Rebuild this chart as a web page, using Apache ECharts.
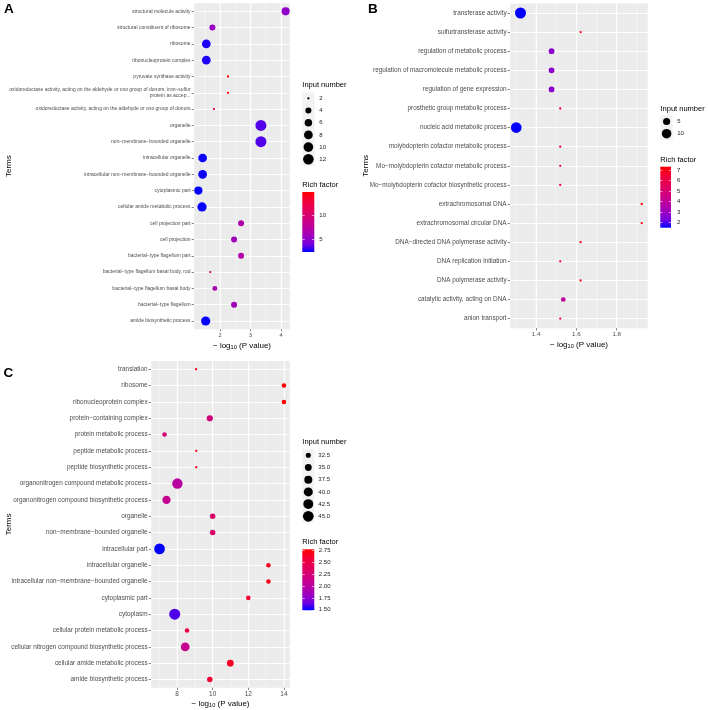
<!DOCTYPE html>
<html><head><meta charset="utf-8">
<script src="https://cdn.jsdelivr.net/npm/echarts@6/dist/echarts.min.js"></script>
<style>html,body{margin:0;padding:0;background:#fff}#c{width:708px;height:710px}</style>
</head><body><div id="c"></div>
<script>
// ---------------- Panel A ----------------
const termsA = [
  'structural molecule activity',
  'structural constituent of ribosome',
  'ribosome',
  'ribonucleoprotein complex',
  'pyruvate synthase activity',
  'oxidoreductase activity, acting on the aldehyde or oxo group of donors, iron\u2212sulfur\nprotein as accep...',
  'oxidoreductase activity, acting on the aldehyde or oxo group of donors',
  'organelle',
  'non\u2212membrane\u2212bounded organelle',
  'intracellular organelle',
  'intracellular non\u2212membrane\u2212bounded organelle',
  'cytoplasmic part',
  'cellular amide metabolic process',
  'cell projection part',
  'cell projection',
  'bacterial\u2212type flagellum part',
  'bacterial\u2212type flagellum basal body, rod',
  'bacterial\u2212type flagellum basal body',
  'bacterial\u2212type flagellum',
  'amide biosynthetic process'
];
const logPA  = [4.15,1.75,1.55,1.55,2.26,2.26,1.80,3.34,3.34,1.43,1.43,1.29,1.41,2.69,2.46,2.69,1.68,1.83,2.46,1.53];
const inputA = [7,4,8,8,2,2,2,13,13,8,8,7,9,4,4,4,2,3,4,9];
const richA  = [5.0,5.3,2.7,2.7,14.8,14.8,10.8,3.4,3.4,2.45,2.45,2.29,2.4,6.7,5.8,6.7,9.8,6.2,5.8,2.4];
const xTicksA = [2,3,4];
const sizeBreaksA = [2,4,6,8,10,12];
const richTicksA = [5,10];

// ---------------- Panel B ----------------
const termsB = [
  'transferase activity',
  'sulfurtransferase activity',
  'regulation of metabolic process',
  'regulation of macromolecule metabolic process',
  'regulation of gene expression',
  'prosthetic group metabolic process',
  'nucleic acid metabolic process',
  'molybdopterin cofactor metabolic process',
  'Mo\u2212molybdopterin cofactor metabolic process',
  'Mo\u2212molybdopterin cofactor biosynthetic process',
  'extrachromosomal DNA',
  'extrachromosomal circular DNA',
  'DNA\u2212directed DNA polymerase activity',
  'DNA replication initiation',
  'DNA polymerase activity',
  'catalytic activity, acting on DNA',
  'anion transport'
];
const logPB  = [1.323,1.621,1.477,1.477,1.477,1.520,1.302,1.520,1.520,1.520,1.924,1.924,1.621,1.520,1.621,1.535,1.520];
const inputB = [14,1,3,3,3,1,13,1,1,1,1,1,1,1,1,2,1];
const richB  = [1.52,7.0,2.7,2.7,2.7,6.5,1.55,6.5,6.5,6.5,7.34,7.34,7.0,6.5,7.0,3.9,6.5];
const xTicksB = [1.4,1.6,1.8];
const sizeBreaksB = [5,10];
const richTicksB = [2,3,4,5,6,7];

// ---------------- Panel C ----------------
const termsC = [
  'translation',
  'ribosome',
  'ribonucleoprotein complex',
  'protein\u2212containing complex',
  'protein metabolic process',
  'peptide metabolic process',
  'peptide biosynthetic process',
  'organonitrogen compound metabolic process',
  'organonitrogen compound biosynthetic process',
  'organelle',
  'non\u2212membrane\u2212bounded organelle',
  'intracellular part',
  'intracellular organelle',
  'intracellular non\u2212membrane\u2212bounded organelle',
  'cytoplasmic part',
  'cytoplasm',
  'cellular protein metabolic process',
  'cellular nitrogen compound biosynthetic process',
  'cellular amide metabolic process',
  'amide biosynthetic process'
];
const logPC  = [9.07,14.0,14.0,9.84,7.30,9.08,9.08,8.02,7.41,10.0,10.0,7.02,13.13,13.13,12.0,7.87,8.56,8.46,10.99,9.84];
const inputC = [31,32,32,34,32,31,31,44,38,33,33,45,32,32,32,46,32,39,35,33];
const richC  = [2.7,2.78,2.78,2.2,2.25,2.7,2.7,2.0,2.1,2.3,2.3,1.49,2.68,2.68,2.6,1.6,2.5,2.1,2.65,2.6];
const xTicksC = [8,10,12,14];
const sizeBreaksC = [32.5,35,37.5,40,42.5,45];
const richTicksC = [1.5,1.75,2,2.25,2.5,2.75];

// ---------------- build ----------------
const FONT = '"Liberation Sans", Arial, Helvetica, sans-serif';
const STOPS = ['#0000ff','#7300e0','#9a00c2','#b500a5','#ca0089','#da006c','#e8004f','#f40031','#ff0000'];
const grid = [], xAxis = [], yAxis = [], series = [], visualMap = [], title = [];

function sizeFn(v, lo, hi) {
  const t = hi > lo ? Math.max(0, (v - lo) / (hi - lo)) : 0;
  const s = 1 + 5 * Math.sqrt(t);
  return 0.611 * (2.845 * s + 0.945);
}
function mkGrid(o) {
  return Object.assign({outerBoundsMode: 'none', containLabel: false, borderWidth: 0}, o);
}

function addPanel(P) {
  const gi = grid.length;
  grid.push(mkGrid({left: P.left, top: P.top, width: P.width, height: P.height, show: true,
             backgroundColor: '#EBEBEB'}));
  const xi = xAxis.length;
  xAxis.push({
    type: 'value', gridIndex: gi, min: P.xmin, max: P.xmax,
    minInterval: P.xstep, maxInterval: P.xstep,
    axisLine: {show: false},
    axisTick: {show: true, length: 2.3, customValues: P.xTicks, lineStyle: {color: '#333', width: 0.6}},
    axisLabel: {customValues: P.xTicks, formatter: P.xfmt, fontSize: P.tickFs, color: '#4D4D4D',
                margin: P.xLabMargin, fontFamily: FONT},
    splitLine: {show: true, lineStyle: {color: '#fff', width: 0.9}},
    name: '\u2212 log{sub|10} (P value)', nameLocation: 'middle', nameGap: P.xNameGap, nameMoveOverlap: false,
    nameTextStyle: {fontSize: P.nameFs, color: '#000', fontFamily: FONT,
      rich: {sub: {fontSize: P.nameFs * 0.7, color: '#000', fontFamily: FONT, padding: [P.nameFs * 0.45, 0, 0, 0]}}}
  });
  xAxis.push({
    type: 'value', gridIndex: gi, min: P.xmin, max: P.xmax, position: 'top',
    minInterval: P.xstep / 2, maxInterval: P.xstep / 2,
    axisLine: {show: false}, axisTick: {show: false}, axisLabel: {show: false},
    splitLine: {show: true, lineStyle: {color: '#fff', width: 0.45}}
  });
  const yi = yAxis.length;
  yAxis.push({
    type: 'category', gridIndex: gi, data: P.terms, inverse: true,
    axisLine: {show: false},
    axisTick: {show: true, alignWithLabel: true, interval: 0, length: 2.3, lineStyle: {color: '#333', width: 0.6}},
    axisLabel: {interval: 0, fontSize: P.labFs, lineHeight: P.labLH, color: '#4D4D4D', margin: 3.4, fontFamily: FONT},
    splitLine: {show: true, interval: 0, alignWithLabel: true, lineStyle: {color: '#fff', width: 0.9}},
    name: 'Terms', nameLocation: 'middle', nameGap: P.yNameGap, nameMoveOverlap: false,
    nameTextStyle: {fontSize: P.nameFs, color: '#000', fontFamily: FONT}
  });
  const lo = Math.min(...P.input), hi = Math.max(...P.input);
  const si = series.length;
  series.push({
    type: 'scatter', xAxisIndex: xi, yAxisIndex: yi,
    data: P.terms.map((t, i) => [P.logP[i], i, P.input[i], P.rich[i]]),
    encode: {x: 0, y: 1},
    symbolSize: v => sizeFn(v[2], lo, hi),
    itemStyle: {opacity: 1}, silent: true
  });
  title.push({text: P.letter, left: P.letterPos[0], top: P.letterPos[1], padding: 0,
              textStyle: {fontSize: 13.5, fontWeight: 'bold', color: '#000', fontFamily: FONT}});

  // size legend
  const L = P.sizeLeg;
  title.push({text: 'Input number', left: L.left, top: L.titleTop, padding: 0,
              textStyle: {fontSize: P.legTitleFs, fontWeight: 'normal', color: '#000', fontFamily: FONT}});
  const lg = grid.length;
  grid.push(mkGrid({left: L.left, top: L.top, width: L.keyW, height: L.keyH * P.sizeBreaks.length, show: true,
             backgroundColor: '#F2F2F2'}));
  const lx = xAxis.length;
  xAxis.push({type: 'category', gridIndex: lg, data: ['k'], show: false});
  const ly = yAxis.length;
  yAxis.push({type: 'category', gridIndex: lg, inverse: true, position: 'right',
    data: P.sizeBreaks.map(P.sizeFmt),
    axisLine: {show: false}, axisTick: {show: false},
    axisLabel: {interval: 0, margin: L.margin, fontSize: P.legFs, color: '#1A1A1A', fontFamily: FONT},
    splitLine: {show: false}});
  series.push({type: 'scatter', xAxisIndex: lx, yAxisIndex: ly,
    data: P.sizeBreaks.map((b, i) => [0, i, b]), encode: {x: 0, y: 1},
    symbolSize: v => sizeFn(v[2], lo, hi), itemStyle: {color: '#000', opacity: 1}, silent: true});

  // colour scale (points) + colour bar legend
  const C = P.colorBar;
  const rlo = Math.min(...P.rich), rhi = Math.max(...P.rich);
  visualMap.push({type: 'continuous', show: false, seriesIndex: si, dimension: 3, min: rlo, max: rhi,
    inRange: {color: STOPS}});
  title.push({text: 'Rich factor', left: C.left, top: C.titleTop, padding: 0,
              textStyle: {fontSize: P.legTitleFs, fontWeight: 'normal', color: '#000', fontFamily: FONT}});
  const cg = grid.length;
  grid.push(mkGrid({left: C.left, top: C.top, width: C.width, height: C.height, show: false}));
  const cx = xAxis.length;
  xAxis.push({type: 'category', gridIndex: cg, data: ['k'], show: false});
  const cy = yAxis.length;
  yAxis.push({type: 'value', gridIndex: cg, min: rlo, max: rhi, position: 'right', z: 10,
    axisLine: {show: false},
    axisTick: {show: true, inside: true, length: C.width / 5, customValues: P.richTicks, lineStyle: {color: '#fff', width: 0.6}},
    axisLabel: {customValues: P.richTicks, formatter: P.richFmt, margin: C.margin, fontSize: P.legFs, color: '#1A1A1A', fontFamily: FONT},
    splitLine: {show: false}});
  yAxis.push({type: 'value', gridIndex: cg, min: rlo, max: rhi, position: 'left', z: 10,
    axisLine: {show: false},
    axisTick: {show: true, inside: true, length: C.width / 5, customValues: P.richTicks, lineStyle: {color: '#fff', width: 0.6}},
    axisLabel: {show: false}, splitLine: {show: false}});
  const stackId = 'cb' + P.letter;
  series.push({type: 'bar', xAxisIndex: cx, yAxisIndex: cy, stack: stackId, barWidth: '100%',
    data: [rlo], itemStyle: {color: 'rgba(0,0,0,0)'}, silent: true, z: 1});
  series.push({type: 'bar', xAxisIndex: cx, yAxisIndex: cy, stack: stackId, barWidth: '100%',
    data: [rhi - rlo], silent: true, z: 1,
    itemStyle: {color: {type: 'linear', x: 0, y: 1, x2: 0, y2: 0,
      colorStops: STOPS.map((c, i) => ({offset: i / (STOPS.length - 1), color: c}))}}});
}

addPanel({
  letter: 'A', letterPos: [4, 2.5],
  terms: termsA, logP: logPA, input: inputA, rich: richA,
  left: 194, top: 3.15, width: 96, height: 326,
  xmin: 1.147, xmax: 4.293, xstep: 1, xTicks: xTicksA, xfmt: v => String(v),
  tickFs: 5.5, labFs: 5, labLH: 6.5, nameFs: 8, xLabMargin: 3, xNameGap: 12, yNameGap: 181,
  legTitleFs: 7.5, legFs: 6,
  sizeBreaks: sizeBreaksA, sizeFmt: v => String(v),
  sizeLeg: {left: 302.3, top: 92.2, keyW: 12.2, keyH: 12.2, margin: 4.8, titleTop: 80.5},
  richTicks: richTicksA, richFmt: v => String(v),
  colorBar: {left: 302.3, top: 192, width: 12, height: 60, margin: 5, titleTop: 180.5}
});
addPanel({
  letter: 'B', letterPos: [368, 2.5],
  terms: termsB, logP: logPB, input: inputB, rich: richB,
  left: 510, top: 3.45, width: 138, height: 324.7,
  xmin: 1.271, xmax: 1.955, xstep: 0.2, xTicks: xTicksB, xfmt: v => Number(v).toFixed(1),
  tickFs: 6.2, labFs: 6.4, labLH: 7.5, nameFs: 8, xLabMargin: 3, xNameGap: 12, yNameGap: 140,
  legTitleFs: 7.5, legFs: 6,
  sizeBreaks: sizeBreaksB, sizeFmt: v => String(v),
  sizeLeg: {left: 660.5, top: 115.4, keyW: 12.2, keyH: 12.2, margin: 4.5, titleTop: 104.5},
  richTicks: richTicksB, richFmt: v => String(v),
  colorBar: {left: 660.3, top: 166.7, width: 10.7, height: 61, margin: 6, titleTop: 155.8}
});
addPanel({
  letter: 'C', letterPos: [3.5, 366.5],
  terms: termsC, logP: logPC, input: inputC, rich: richC,
  left: 151, top: 361.1, width: 139, height: 326.6,
  xmin: 6.54, xmax: 14.34, xstep: 2, xTicks: xTicksC, xfmt: v => String(v),
  tickFs: 6.5, labFs: 6.4, labLH: 7.5, nameFs: 8, xLabMargin: 3, xNameGap: 11, yNameGap: 138,
  legTitleFs: 7.5, legFs: 6,
  sizeBreaks: sizeBreaksC, sizeFmt: v => Number(v).toFixed(1),
  sizeLeg: {left: 302.3, top: 449.2, keyW: 12, keyH: 12.2, margin: 4, titleTop: 437.5},
  richTicks: richTicksC, richFmt: v => Number(v).toFixed(2),
  colorBar: {left: 302.3, top: 549.3, width: 12, height: 61, margin: 4.5, titleTop: 538}
});

const chart = echarts.init(document.getElementById('c'), null, {renderer: 'canvas'});
chart.setOption({
  animation: false,
  backgroundColor: '#fff',
  textStyle: {fontFamily: FONT},
  title, grid, xAxis, yAxis, series, visualMap
});
</script>
</body></html>
